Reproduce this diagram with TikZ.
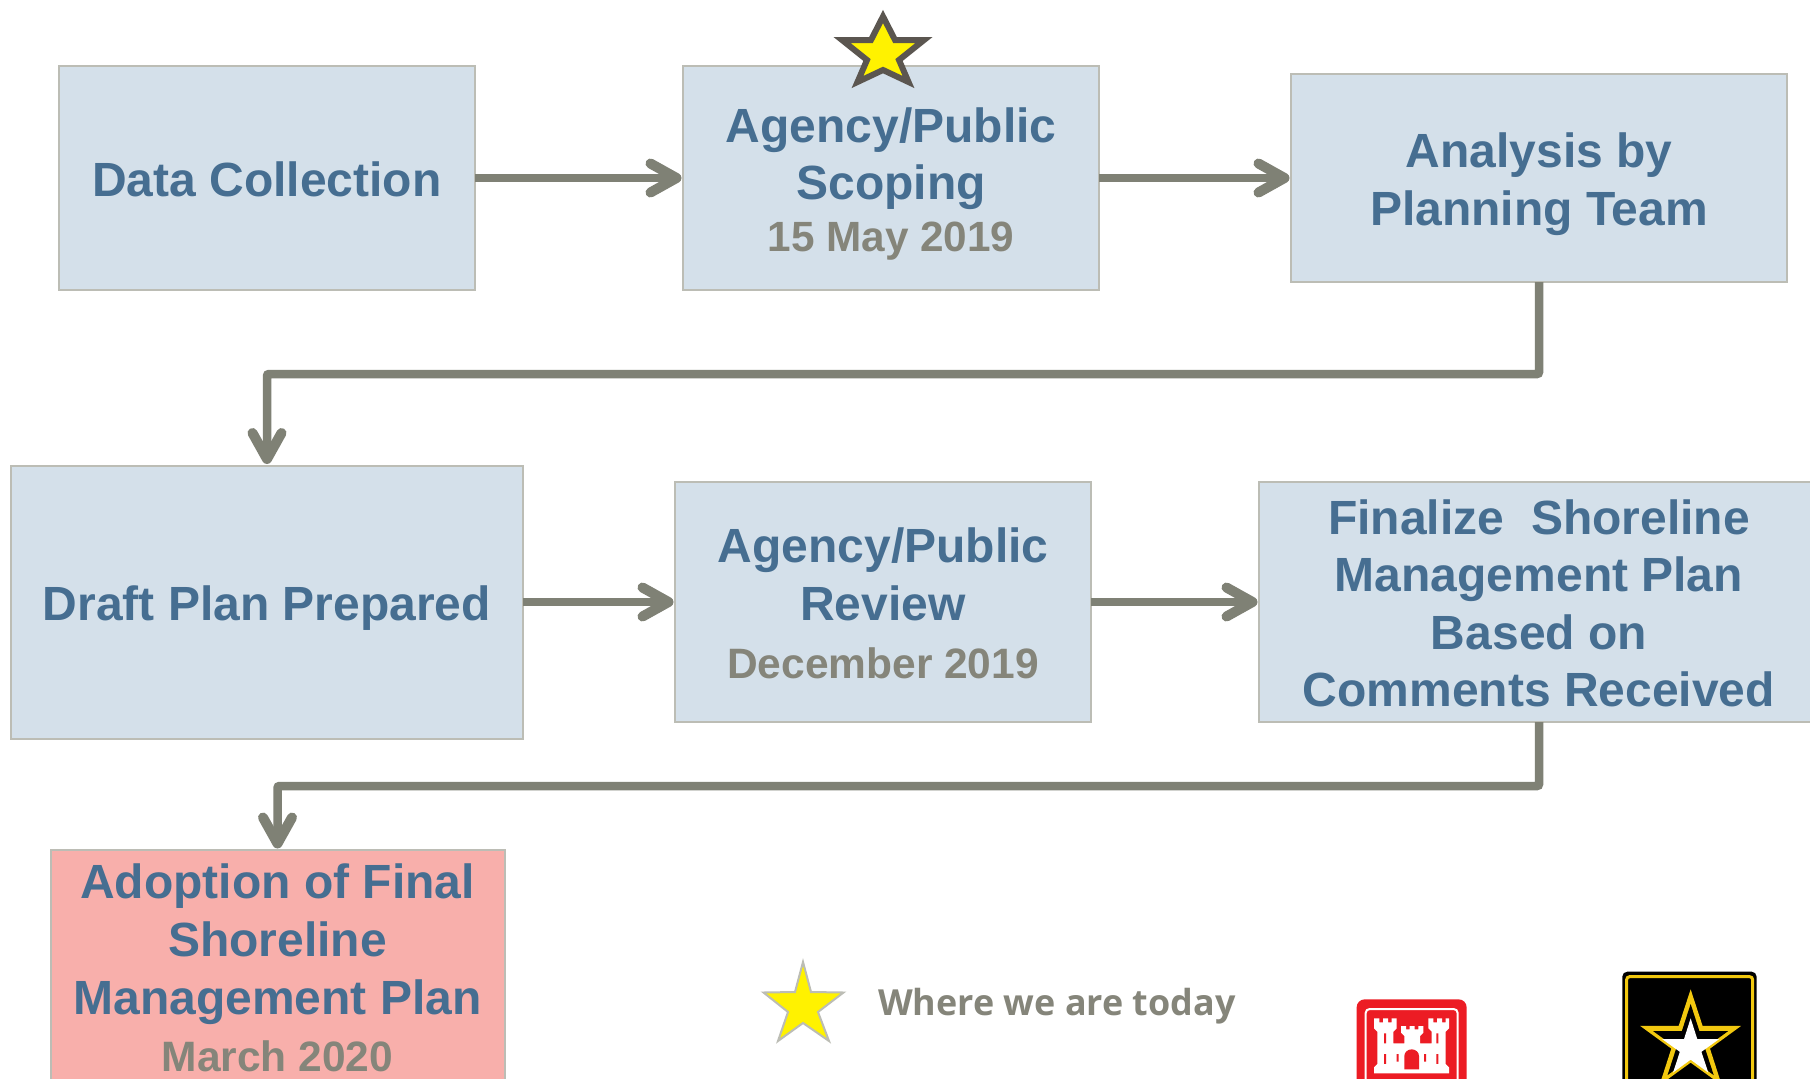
\documentclass[tikz,border=0pt]{standalone}
\usepackage{fontspec}
\setmainfont{Liberation Sans}
\newfontfamily\legendfont{Open Sans}
\usetikzlibrary{arrows.meta}
\definecolor{boxfill}{HTML}{D4E0EA}
\definecolor{boxline}{HTML}{BCBDB5}
\definecolor{pinkfill}{HTML}{F8AFAB}
\definecolor{titleblue}{HTML}{466E91}
\definecolor{dategray}{HTML}{85857A}
\definecolor{arrowgray}{HTML}{7F8175}
\definecolor{stardark}{HTML}{5B5650}
\definecolor{usacered}{HTML}{EC1C24}
\definecolor{armygold}{HTML}{F2C80F}
\newcommand\tbox[2]{\raisebox{#1pt}[0pt][0pt]{\begin{tabular}[t]{@{}c@{}}#2\end{tabular}}}
\newcommand\datefont[1]{\fontsize{#1}{57}\selectfont\color{dategray}}
\newcommand\regstar[4]{% center x, y, outer R, inner r (y axis points down)
  (#1,#2-#3)
  \foreach \k in {1,...,9}{ -- ({#1+(isodd(\k)?#4:#3)*sin(36*\k)},{#2-(isodd(\k)?#4:#3)*cos(36*\k)}) }
  -- cycle}
\tikzset{
  planbox/.style={draw=boxline,fill=boxfill,line width=2pt,inner sep=0pt,outer sep=0pt,text=titleblue,
    font=\bfseries\fontsize{48}{57}\selectfont},
  flow/.style={draw=arrowgray,line width=8.5pt,rounded corners=2pt,shorten >=1.5pt,
    -{Straight Barb[length=26pt,width=29pt,line width=10pt,round]}},
}
\begin{document}
\begin{tikzpicture}[x=1pt,y=-1pt]
\useasboundingbox (0,0) rectangle (1810,1079);
\fill[white] (0,0) rectangle (1810,1079);
\node[planbox,minimum width=416pt,minimum height=224pt] (b1) at (267,178) {\tbox{-18}{Data Collection}};
\node[planbox,minimum width=416pt,minimum height=224pt] (b2) at (891,178) {\tbox{36}{Agency/Public\\Scoping\\[-5pt]\datefont{42.3}15 May 2019}};
\node[planbox,minimum width=496pt,minimum height=208pt] (b3) at (1539,178) {\tbox{10.5}{Analysis by\\[1pt]Planning Team}};
\node[planbox,minimum width=512pt,minimum height=273pt] (b4) at (267,602) {\tbox{-18.5}{Draft Plan Prepared}};
\node[planbox,minimum width=416pt,minimum height=240pt] (b5) at (883,602) {\tbox{40}{Agency/Public\\[1pt]Review\\[1pt]\datefont{42.5}December 2019}};
\node[planbox,minimum width=560pt,minimum height=240pt] (b6) at (1539,602) {\tbox{67.5}{Finalize~~Shoreline\\[0pt]Management Plan\\[1pt]Based on\\[0pt]Comments Received}};
\node[planbox,fill=pinkfill,minimum width=454pt,minimum height=260pt] (b7) at (277.5,980) {\tbox{82}{Adoption of Final\\[1pt]Shoreline\\[1pt]Management Plan\\\datefont{42.5}March 2020}};
\coordinate (mid1) at (0,374);
\coordinate (mid2) at (0,786);
\draw[flow] (b1) -- (b2);
\draw[flow] (b2) -- (b3);
\draw[flow] (b4.east |- b5) -- (b5);
\draw[flow] (b5) -- (b6.west);
\draw[flow] (b3.south) -- (b3.south |- mid1) -- (b4.north |- mid1) -- (b4.north);
\draw[flow] (b6.south) -- (b6.south |- mid2) -- (b7.north |- mid2) -- (b7.north);
% current-position star
\draw[draw=stardark,fill=yellow,line width=6pt,miter limit=10]
  (883,16.5) -- (895,40) -- (924,40) -- (899,60) -- (908.5,82) -- (883,70) -- (857.5,82) -- (867,60) -- (842,40) -- (871,40) -- cycle;
% legend
\draw[draw=boxline,fill=yellow,line width=2pt,miter limit=10]
  (803,962) -- (811,992) -- (843.5,992.5) -- (818,1012) -- (829,1041) -- (803,1023) -- (778,1041) -- (788,1012) -- (763.5,992.5) -- (795,992) -- cycle;
\node[anchor=base west,inner sep=0pt,text=dategray,font=\legendfont\bfseries\fontsize{35.9}{40}\selectfont] (legend) at (878,1015) {Where we are today};
% castle logo (units: 1/3 px)
\begin{scope}[shift={(1300,930)},x=0.3333pt,y=-0.3333pt]
\fill[usacered,rounded corners=8pt] (170,208) rectangle (500,560);
\draw[white,line width=2pt,rounded corners=4pt] (197,237) rectangle (473,560);
\fill[white] (222,265) -- (238,265) -- (238,277) -- (249,277) -- (249,265) -- (264,265) -- (264,277) -- (275,277) -- (275,265) -- (290,265)
  -- (290,295) -- (280,305) -- (280,340) -- (313,340) -- (313,318) -- (303,308) -- (303,288) -- (318,288) -- (318,298) -- (329,298) -- (329,288)
  -- (344,288) -- (344,298) -- (355,298) -- (355,288) -- (370,288) -- (370,308) -- (360,318) -- (360,340) -- (395,340) -- (395,305) -- (385,295)
  -- (385,265) -- (400,265) -- (400,277) -- (411,277) -- (411,265) -- (426,265) -- (426,277) -- (437,277) -- (437,265) -- (447,265) -- (447,295)
  -- (437,305) -- (437,402) -- (447,412) -- (447,430) -- (222,430) -- (222,412) -- (232,402) -- (232,305) -- (222,295) -- cycle;
\fill[usacered] (252,310) rectangle (258,340) (409,310) rectangle (415,340)
  (252,372) rectangle (258,402) (409,372) rectangle (415,402)
  (290,372) rectangle (296,395) (372,372) rectangle (378,395);
\fill[usacered] (313,418) -- (313,378) arc[start angle=180,end angle=0,x radius=22,y radius=-20] -- (357,418) -- cycle;
\end{scope}
% army logo (units: 1/3 px)
\begin{scope}[shift={(1300,930)},x=0.3333pt,y=-0.3333pt]
\fill[black,rounded corners=5pt] (967,125) rectangle (1370,560);
\draw[armygold,line width=3pt,rounded corners=3pt] (980,140) rectangle (1358,560);
\fill[armygold] \regstar{1172}{337}{159}{61};
\fill[black] \regstar{1172}{340}{118}{45};
\fill[white] \regstar{1172}{355}{90}{34};
\end{scope}
\end{tikzpicture}
\end{document}
